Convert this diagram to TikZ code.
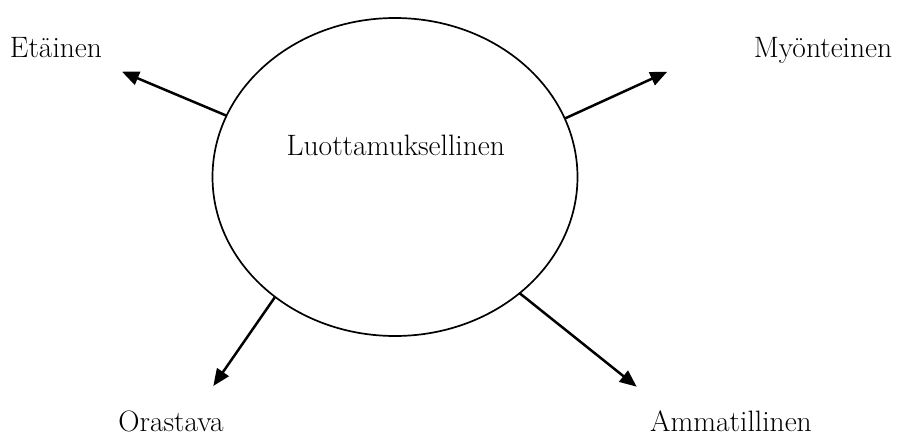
\documentclass[tikz,border=0pt]{standalone}
\usetikzlibrary{shapes.geometric,arrows.meta}
\begin{document}
\begin{tikzpicture}[x=1pt,y=-1pt,
  lbl/.style={anchor=base,inner sep=0pt,font=\fontsize{29.5}{33}\selectfont},
  arr/.style={line width=2.5pt,-{Triangle[length=17pt,width=14pt]}}]
\useasboundingbox (0,0) rectangle (897,437);
\node[ellipse,draw,line width=1.7pt,minimum width=365pt,minimum height=318pt,inner sep=0pt,outer sep=0pt] (e) at (395,177) {};
\node[lbl] (c) at (395.8,155) {Luottamuksellinen};
\node[lbl] (l1) at (56,57.3) {Etäinen};
\node[lbl] (l2) at (823,57.3) {Myönteinen};
\node[lbl] (l3) at (171,431) {Orastava};
\node[lbl] (l4) at (731,431) {Ammatillinen};
\coordinate (t1) at (122,71.7);
\coordinate (t2) at (667.3,71.7);
\coordinate (t3) at (213.3,386);
\coordinate (t4) at (636.7,386.7);
\draw[arr] (e.160.4) -- (t1);
\draw[arr] (e.19.4) -- (t2);
\draw[arr] (e.225.2) -- (t3);
\draw[arr] (e.-43.4) -- (t4);
\end{tikzpicture}
\end{document}
